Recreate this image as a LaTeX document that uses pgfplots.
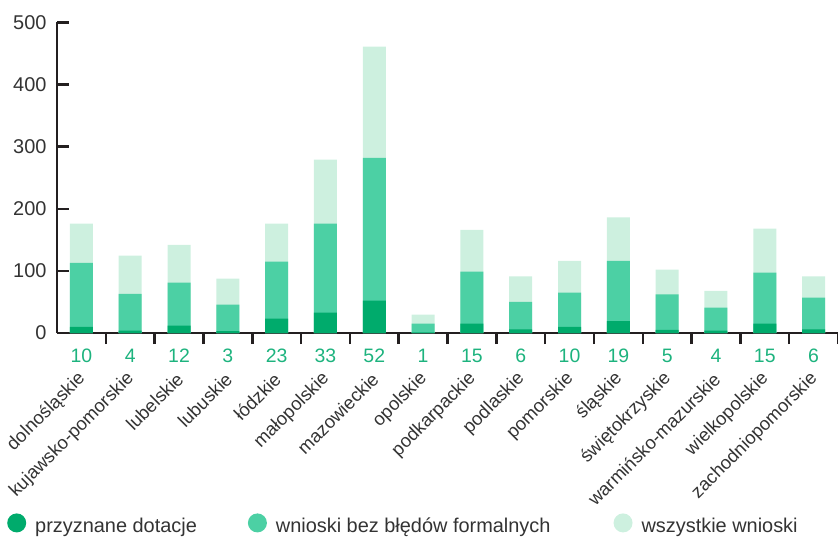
\documentclass[border=0pt]{standalone}
\usepackage{pgfplots}
\pgfplotsset{compat=1.18}
\usepackage{fontspec}
\setmainfont{Liberation Sans}
\definecolor{ddark}{HTML}{00AB6C}
\definecolor{dmid}{HTML}{4CD0A4}
\definecolor{dlight}{HTML}{CDF0DF}
\definecolor{numgreen}{HTML}{1DB37E}
\definecolor{txt}{HTML}{333333}
\definecolor{axl}{HTML}{231F20}
\begin{document}
\begin{tikzpicture}
\useasboundingbox (0,0) rectangle (838bp,538bp);
\begin{axis}[
    at={(57bp,205bp)}, anchor=south west,
    scale only axis,
    width=781bp, height=310.6bp,
    xmin=-0.5, xmax=15.5,
    ymin=0, ymax=500,
    axis x line*=bottom, axis y line*=left,
    axis line style={line width=2.5bp, color=axl},
    ytick={0,100,...,500},
    ytick style={line width=2.5bp, color=axl},
    major tick length=12bp,
    /pgf/number format/assume math mode=true,
    yticklabel style={font=\fontsize{20}{22}\selectfont, color=txt, xshift=-7bp},
    xtick={0,...,15},
    xtick style={draw=none},
    xticklabels={dolnośląskie,kujawsko-pomorskie,lubelskie,lubuskie,łódzkie,małopolskie,mazowieckie,opolskie,podkarpackie,podlaskie,pomorskie,śląskie,świętokrzyskie,warmińsko-mazurskie,wielkopolskie,zachodniopomorskie},
    xticklabel style={font=\fontsize{18.5}{21}\selectfont, color=txt, yshift=-31bp, xshift=1bp, rotate=45, anchor=east, inner sep=0pt},
    extra x ticks={0.5,1.5,...,15.5},
    extra x tick labels={},
    extra x tick style={xtick style={draw=axl, line width=2.5bp}, major tick length=11bp},
    ybar, bar shift=0pt, bar width=23bp,
    clip=false,
    legend columns=3,
    reverse legend,
    legend style={at={(-0.064,-0.618)}, anchor=west, draw=none, fill=none,
        font=\fontsize{20}{22}\selectfont, text=txt, inner sep=0pt,
        /tikz/every odd column/.append style={column sep=7bp},
        /tikz/column 2/.style={column sep=49bp},
        /tikz/column 4/.style={column sep=61bp}},
    legend image code/.code={\fill[#1] (9.5bp,0.35em) circle (9.5bp);},
]
% wszystkie wnioski
\addplot[draw=none, fill=dlight] coordinates {
 (0,176) (1,124.5) (2,142) (3,87.5) (4,176) (5,279) (6,461) (7,29.5)
 (8,166) (9,91) (10,116) (11,186) (12,102) (13,68) (14,168) (15,91)};
% wnioski bez bledow formalnych
\addplot[draw=none, fill=dmid] coordinates {
 (0,113) (1,63) (2,81) (3,45.6) (4,115) (5,176) (6,282) (7,15)
 (8,99) (9,50) (10,65) (11,116) (12,62) (13,41) (14,97) (15,57)};
% przyznane dotacje
\addplot[draw=none, fill=ddark] coordinates {
 (0,10) (1,4) (2,12) (3,3) (4,23) (5,33) (6,52) (7,1)
 (8,15) (9,6) (10,10) (11,19) (12,5) (13,4) (14,15) (15,6)};
% liczby pod osia
\addplot[draw=none, fill=none, forget plot, point meta=explicit symbolic,
    nodes near coords, every node near coord/.style={anchor=center, yshift=-23bp,
    font=\fontsize{19.5}{22}\selectfont, text=numgreen}] coordinates {
 (0,0)[10] (1,0)[4] (2,0)[12] (3,0)[3] (4,0)[23] (5,0)[33] (6,0)[52] (7,0)[1]
 (8,0)[15] (9,0)[6] (10,0)[10] (11,0)[19] (12,0)[5] (13,0)[4] (14,0)[15] (15,0)[6]};
\legend{wszystkie wnioski,wnioski bez błędów formalnych,przyznane dotacje}
\end{axis}
\end{tikzpicture}
\end{document}
